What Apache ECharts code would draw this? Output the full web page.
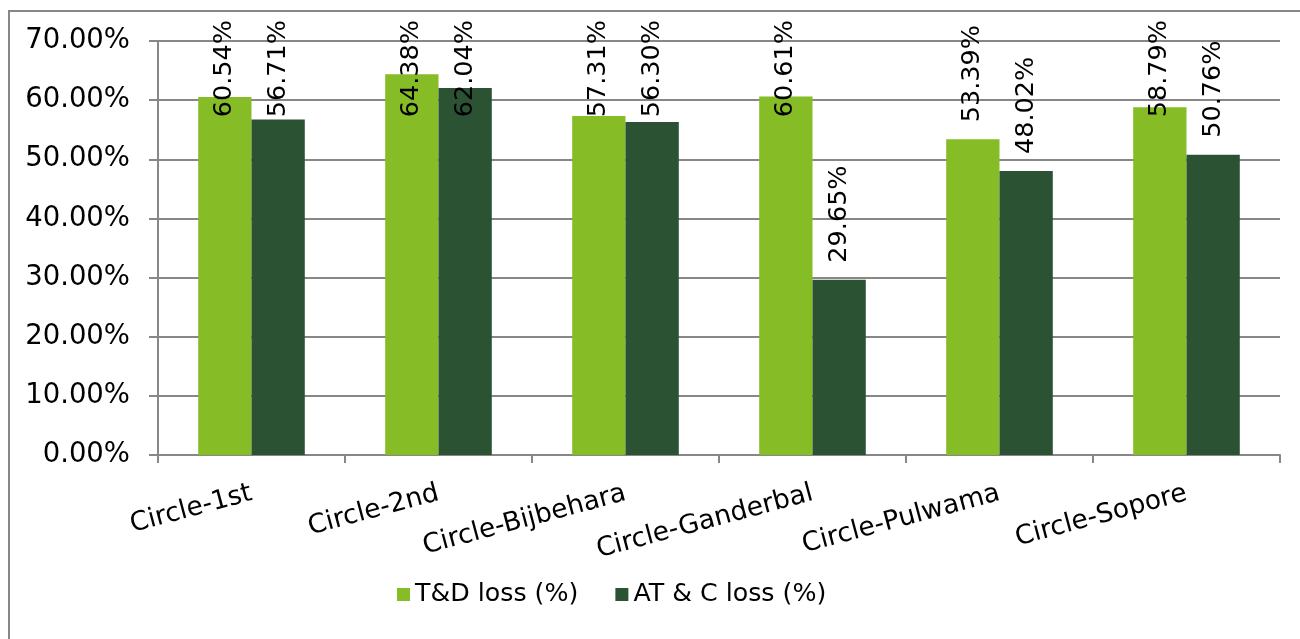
<!DOCTYPE html>
<html><head><meta charset="utf-8">
<script src="https://cdn.jsdelivr.net/npm/echarts@6/dist/echarts.min.js"></script>
<style>html,body{margin:0;padding:0;background:#fff}#c{width:1300px;height:639px}</style>
</head><body><div id="c"></div>
<script>
const categories = ['Circle-1st','Circle-2nd','Circle-Bijbehara','Circle-Ganderbal','Circle-Pulwama','Circle-Sopore'];
const tdLoss = [60.54, 64.38, 57.31, 60.61, 53.39, 58.79];
const atcLoss = [56.71, 62.04, 56.30, 29.65, 48.02, 50.76];
const seriesNames = ['T&D loss (%)', 'AT & C loss (%)'];

const FONT = 'DejaVu Sans';
const chart = echarts.init(document.getElementById('c'), null, {renderer: 'canvas'});
const labelCfg = {
  show: true, position: 'top', rotate: 90, align: 'left', verticalAlign: 'middle',
  distance: 17, fontFamily: FONT, fontSize: 25.5, color: '#000',
  formatter: p => p.value.toFixed(2) + '%'
};
chart.setOption({
  animation: false,
  textStyle: {fontFamily: FONT},
  graphic: [{type: 'polyline', shape: {points: [[9, 660], [9, 11], [1320, 11]]}, style: {stroke: '#878787', lineWidth: 2, fill: null}}],
  grid: {left: 158, right: 20, top: 41, bottom: 184, containLabel: false},
  legend: {
    bottom: 27, left: 392, itemWidth: 13, itemHeight: 13, itemGap: 37,
    icon: 'rect', textStyle: {fontFamily: FONT, fontSize: 25.3, color: '#000'},
    data: seriesNames
  },
  xAxis: {
    type: 'category', data: categories,
    axisLine: {lineStyle: {color: '#878787', width: 2}},
    axisTick: {show: true, length: 8, lineStyle: {color: '#878787', width: 2}},
    axisLabel: {rotate: 15, margin: 38, fontFamily: FONT, fontSize: 26.5, color: '#000', interval: 0}
  },
  yAxis: {
    type: 'value', min: 0, max: 70, interval: 10,
    axisLine: {show: true, lineStyle: {color: '#878787', width: 2}},
    axisTick: {show: true, length: 9, lineStyle: {color: '#878787', width: 2}},
    splitLine: {lineStyle: {color: '#878787', width: 2}},
    axisLabel: {margin: 28, fontFamily: FONT, fontSize: 27.5, color: '#000', formatter: v => v.toFixed(2) + '%'}
  },
  labelLayout: function (params) {
    const r = params.labelRect;
    if (r.y < 20) return {dx: r.y - 20};
    return {};
  },
  series: [
    {name: seriesNames[0], type: 'bar', data: tdLoss, barGap: '0%', barCategoryGap: '43%', itemStyle: {color: '#86bc25'}, label: labelCfg},
    {name: seriesNames[1], type: 'bar', data: atcLoss, itemStyle: {color: '#2c5234'}, label: labelCfg}
  ]
});
</script></body></html>
